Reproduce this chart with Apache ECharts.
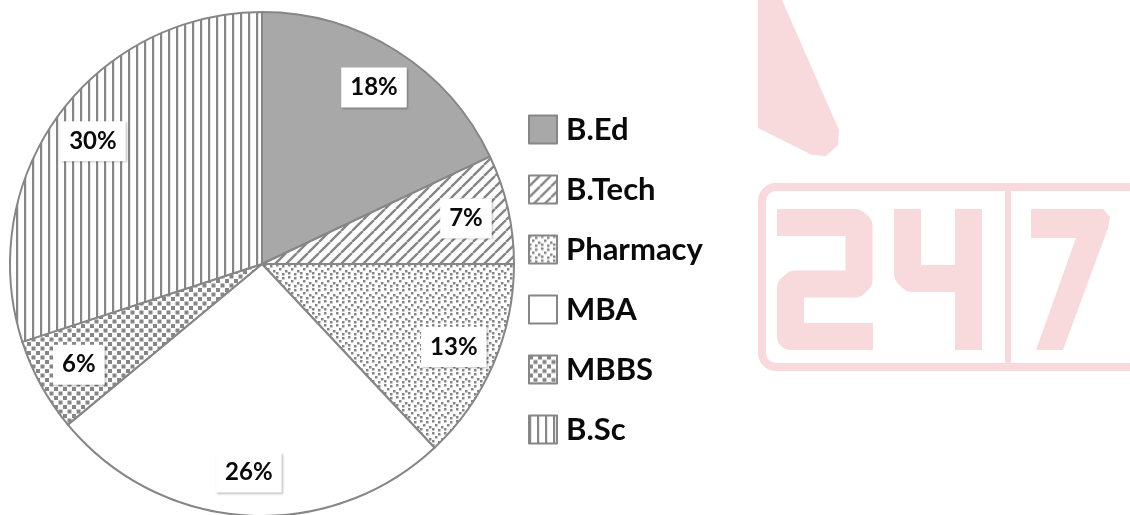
<!DOCTYPE html>
<html>
<head>
<meta charset="utf-8">
<script src="https://cdn.jsdelivr.net/npm/echarts@6/dist/echarts.min.js"></script>
<style>
  html, body { margin: 0; padding: 0; background: #fff; }
  #chart { width: 1130px; height: 515px; }
</style>
</head>
<body>
<div id="chart"></div>
<script>
// 数据
var categories = ['B.Ed', 'B.Tech', 'Pharmacy', 'MBA', 'MBBS', 'B.Sc'];
var shares = [18, 7, 13, 26, 6, 30];

var lineGray = '#868686';
var pink = '#f8dadd';

// 小图案（canvas 平铺）
function pattern(w, h, draw) {
  var c = document.createElement('canvas');
  c.width = w;
  c.height = h;
  var g = c.getContext('2d');
  g.fillStyle = '#fff';
  g.fillRect(0, 0, w, h);
  g.fillStyle = lineGray;
  g.strokeStyle = lineGray;
  draw(g, w, h);
  return { image: c, repeat: 'repeat' };
}

var fills = [
  '#a8a8a8',
  pattern(11, 11, function (g, w, h) {
    g.lineWidth = 2.4;
    g.beginPath();
    g.moveTo(-w, h); g.lineTo(0, 0);
    g.moveTo(0, h); g.lineTo(w, 0);
    g.moveTo(w, h); g.lineTo(2 * w, 0);
    g.stroke();
  }),
  pattern(12, 12, function (g) {
    [[0, 0], [6, 1], [3, 4], [9, 6], [0, 8], [6, 9]].forEach(function (p) {
      g.fillRect(p[0], p[1], 2.5, 2.5);
    });
  }),
  '#ffffff',
  pattern(9, 9, function (g) {
    g.fillRect(0, 0, 4, 4);
    g.fillRect(4.5, 4.5, 4, 4);
  }),
  pattern(8, 1, function (g) {
    g.fillRect(0, 0, 2.2, 1);
  })
];

var pieData = categories.map(function (name, i) {
  return { name: name, value: shares[i], itemStyle: { color: fills[i] } };
});
var labelData = categories.map(function (name, i) {
  return { name: name, value: shares[i] };
});

var chart = echarts.init(document.getElementById('chart'), null, { renderer: 'canvas' });

var option = {
  animation: false,
  backgroundColor: '#fff',
  legend: {
    orient: 'vertical',
    left: 523,
    top: 109,
    itemWidth: 28,
    itemHeight: 28,
    itemGap: 29,
    icon: 'rect',
    data: categories,
    itemStyle: { borderColor: lineGray, borderWidth: 2 },
    textStyle: {
      fontFamily: 'Lato',
      fontWeight: 'bold',
      fontSize: 31,
      color: '#0a0a0a',
      padding: [0, 0, 0, 4]
    }
  },
  graphic: [
    // 水印
    {
      type: 'polygon',
      silent: true,
      shape: { points: [[758, 0], [782, 0], [839, 130], [838, 145], [826, 156], [812, 155], [758, 128]] },
      style: { fill: pink }
    },
    {
      type: 'rect',
      silent: true,
      shape: { x: 762, y: 187, width: 380, height: 180, r: 14 },
      style: { fill: 'none', stroke: pink, lineWidth: 8 }
    },
    {
      type: 'rect',
      silent: true,
      shape: { x: 1005, y: 187, width: 6, height: 180 },
      style: { fill: pink }
    },
    {
      type: 'polyline',
      silent: true,
      shape: { points: [[777, 222.5], [855, 222.5], [859, 226], [859, 280], [855, 284], [795, 284], [790.5, 288], [790.5, 336.5], [873, 336.5]] },
      style: { stroke: pink, lineWidth: 27, fill: 'none', lineJoin: 'round' }
    },
    {
      type: 'polyline',
      silent: true,
      shape: { points: [[907.5, 209], [907.5, 274], [912, 278.5], [968.5, 278.5]] },
      style: { stroke: pink, lineWidth: 27, fill: 'none', lineJoin: 'round' }
    },
    {
      type: 'rect',
      silent: true,
      shape: { x: 955, y: 209, width: 27, height: 141 },
      style: { fill: pink }
    },
    {
      type: 'polygon',
      silent: true,
      shape: { points: [[1031, 209], [1103, 209], [1110, 217], [1108, 228], [1063, 350], [1036, 350], [1076, 238], [1031, 238]] },
      style: { fill: pink }
    }
  ],
  series: [
    {
      type: 'pie',
      center: [262, 264],
      radius: 252,
      startAngle: 90,
      clockwise: true,
      silent: true,
      label: { show: false },
      labelLine: { show: false },
      itemStyle: { borderColor: lineGray, borderWidth: 2 },
      data: pieData
    },
    {
      // 只放标签
      type: 'pie',
      center: [262, 264],
      radius: [150, 262],
      startAngle: 90,
      clockwise: true,
      silent: true,
      itemStyle: { color: 'rgba(0,0,0,0)', borderWidth: 0 },
      label: {
        show: true,
        position: 'inside',
        formatter: '{c}%',
        fontFamily: 'Lato',
        fontWeight: 'bold',
        fontSize: 24,
        color: '#0a0a0a',
        backgroundColor: '#fff',
        padding: [9, 9, 7, 9],
        shadowColor: 'rgba(0,0,0,0.25)',
        shadowBlur: 2,
        shadowOffsetX: 1,
        shadowOffsetY: 1
      },
      labelLine: { show: false },
      data: labelData
    }
  ]
};

chart.setOption(option);
</script>
</body>
</html>
